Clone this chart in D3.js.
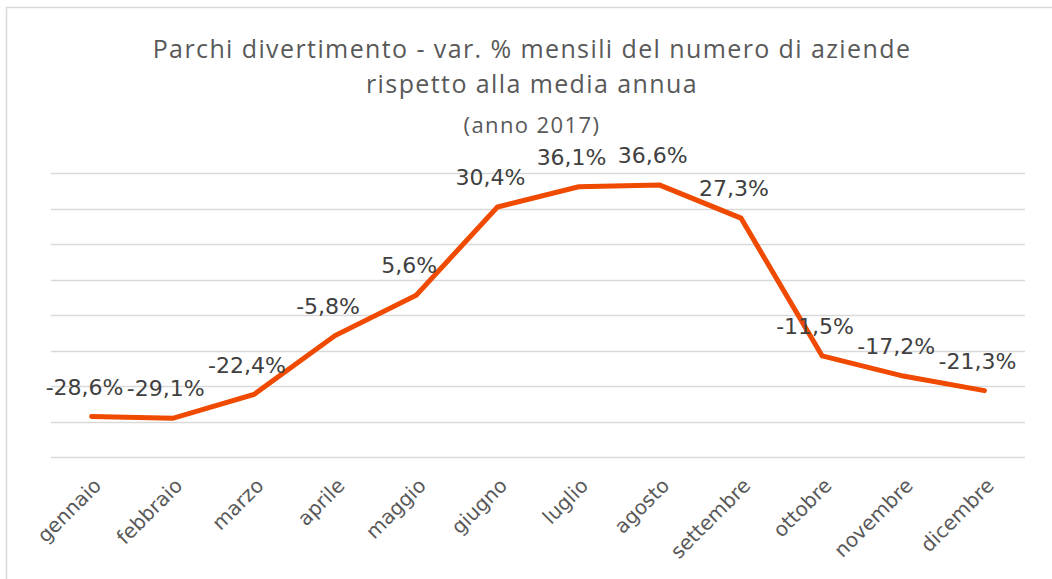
<!DOCTYPE html>
<html>
<head>
<meta charset="utf-8">
<script src="https://cdn.jsdelivr.net/npm/d3@7"></script>
<style>
  body { margin: 0; background: #fff; }
  .grid line { stroke: #d9d9d9; stroke-width: 1.3; }
  .title { font-family: "Open Sans", Lato, sans-serif; fill: #595959; letter-spacing: 1.4px; }
  .lbl { font-family: "DejaVu Sans", Verdana, sans-serif; fill: #404040; font-size: 22px; }
  .xlab { font-family: "DejaVu Sans", Verdana, sans-serif; fill: #595959; font-size: 20px; }
</style>
</head>
<body>
<div id="chart"></div>
<script>
// data
var months = ["gennaio", "febbraio", "marzo", "aprile", "maggio", "giugno",
              "luglio", "agosto", "settembre", "ottobre", "novembre", "dicembre"];
var values = [-28.6, -29.1, -22.4, -5.8, 5.6, 30.4, 36.1, 36.6, 27.3, -11.5, -17.2, -21.3];
var gridTicks = [-40, -30, -20, -10, 0, 10, 20, 30, 40];
var titleLines = ["Parchi divertimento - var. % mensili del numero di aziende",
                  "rispetto alla media annua", "(anno 2017)"];

var width = 1052, height = 579;
var margin = {left: 51, right: 27, top: 173, bottom: 122};

var svg = d3.select("#chart").append("svg")
    .attr("width", width)
    .attr("height", height);

// chart frame (right/bottom edges fall outside the picture)
svg.append("rect")
    .attr("x", 6.5).attr("y", 7.5)
    .attr("width", width + 20).attr("height", height + 20)
    .attr("fill", "none").attr("stroke", "#d9d9d9").attr("stroke-width", 1.5);

var x = d3.scaleBand().domain(months)
    .range([margin.left, width - margin.right]);
var y = d3.scaleLinear().domain([-40, 40])
    .range([height - margin.bottom, margin.top]);

// gridlines
svg.append("g").attr("class", "grid")
  .selectAll("line").data(gridTicks).enter().append("line")
    .attr("x1", margin.left).attr("x2", width - margin.right)
    .attr("y1", d => Math.round(y(d)) + 0.5)
    .attr("y2", d => Math.round(y(d)) + 0.5);

// title
var tsizes = [25, 25, 22], tbase = [58, 93, 133];
svg.append("g").selectAll("text").data(titleLines).enter().append("text")
    .attr("class", "title")
    .attr("x", 532)
    .attr("y", (d, i) => tbase[i])
    .attr("text-anchor", "middle")
    .style("font-size", (d, i) => tsizes[i] + "px")
    .text(d => d);

// line
var cx = d => x(d) + x.bandwidth() / 2;
var line = d3.line()
    .x((d, i) => cx(months[i]))
    .y(d => y(d));

svg.append("path")
    .datum(values)
    .attr("d", line)
    .attr("fill", "none")
    .attr("stroke", "#ef4a00")
    .attr("stroke-width", 5)
    .attr("stroke-linecap", "round");

// data labels
var fmt = v => v.toFixed(1).replace(".", ",") + "%";
svg.append("g").selectAll("text").data(values).enter().append("text")
    .attr("class", "lbl")
    .attr("x", (d, i) => cx(months[i]) - 7)
    .attr("y", d => y(d) - 22)
    .attr("text-anchor", "middle")
    .text(fmt);

// x axis labels, rotated
svg.append("g").selectAll("text").data(months).enter().append("text")
    .attr("class", "xlab")
    .attr("text-anchor", "end")
    .attr("transform", d => "translate(" + (cx(d) + 1) + "," + 477 + ") rotate(-45)")
    .attr("dy", "0.7em")
    .text(d => d);
</script>
</body>
</html>
